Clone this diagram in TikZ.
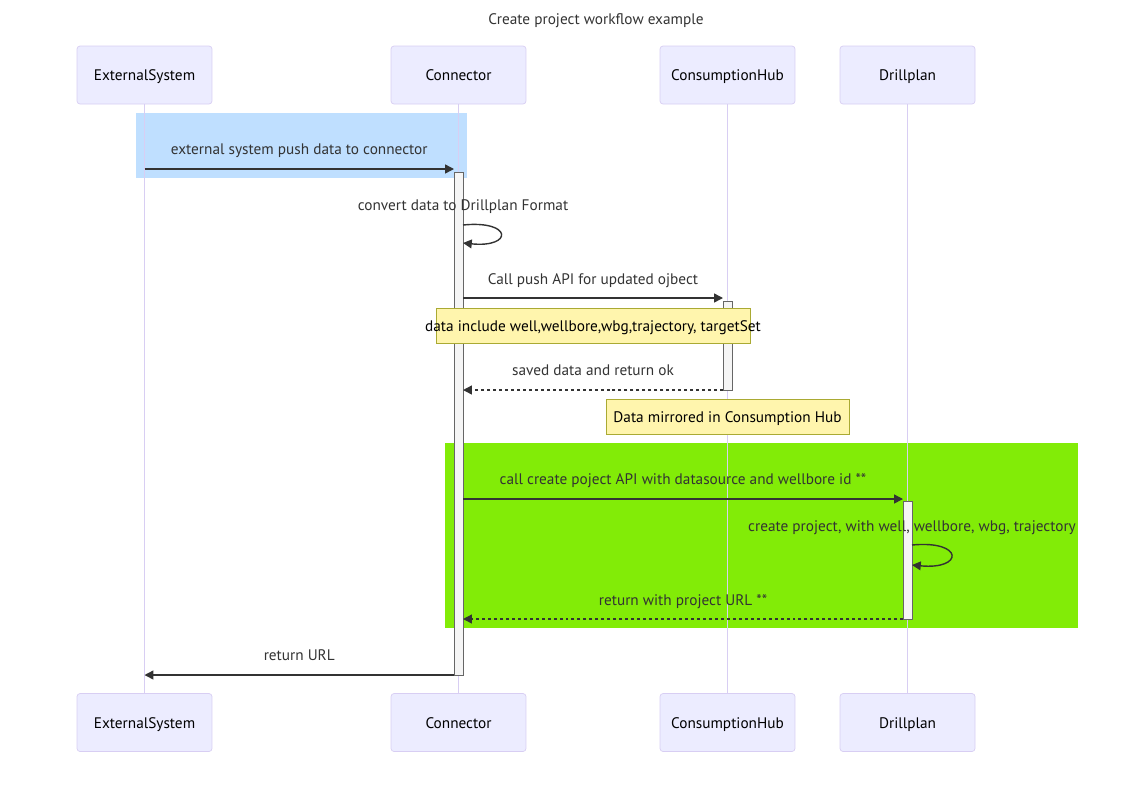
\documentclass[tikz,border=0pt]{standalone}
\usepackage{fontspec}
\setmainfont{PT Sans}
\usetikzlibrary{arrows.meta}

\definecolor{actorfill}{HTML}{ECECFF}
\definecolor{actorline}{HTML}{D8CEF3}
\definecolor{txt}{HTML}{333333}
\definecolor{notefill}{HTML}{FFF5AD}
\definecolor{noteline}{HTML}{AAAA33}
\definecolor{blueband}{HTML}{BFDFFF}
\definecolor{greenband}{HTML}{82EC07}

\tikzset{
  actor/.style={draw=actorline, fill=actorfill, rounded corners=0.06cm,
    minimum width=2.7cm, minimum height=1.16cm, text=black,
    text height=1.6ex, text depth=0.3ex},
  life/.style={draw=actorline, line width=0.7pt},
  actbar/.style={draw=black!60, fill=black!4, line width=0.5pt},
  msg/.style={draw=txt, line width=0.8pt, -{Triangle[length=5pt,width=5pt]}},
  reply/.style={msg, dash pattern=on 1.7pt off 1.7pt},
  lbl/.style={text=txt, inner sep=0pt, text height=1.6ex, text depth=0.3ex},
  notebox/.style={draw=noteline, fill=notefill, minimum height=0.7cm,
    inner sep=0pt},
  notetext/.style={lbl, text=black},
}

\begin{document}
\begin{tikzpicture}[x=0.02cm, y=-0.02cm, font=\fontsize{8.7}{10}\selectfont]
  \useasboundingbox (0,0) rectangle (1125,792);
  \node[lbl] (title) at (596,19) {Create project workflow example};

  \fill[blueband] (136,113) rectangle (467,178);
  \fill[greenband] (445,443) rectangle (1078,628);

  \node[actor] (estop) at (144.5,75) {ExternalSystem};
  \node[actor] (contop) at (458.5,75) {Connector};
  \node[actor] (hubtop) at (727.5,75) {ConsumptionHub};
  \node[actor] (dptop) at (907.5,75) {Drillplan};
  \node[actor] (esbot) at (144.5,722.5) {ExternalSystem};
  \node[actor] (conbot) at (458.5,722.5) {Connector};
  \node[actor] (hubbot) at (727.5,722.5) {ConsumptionHub};
  \node[actor] (dpbot) at (907.5,722.5) {Drillplan};

  \draw[life] (estop) -- (esbot);
  \draw[life] (contop) -- (conbot);
  \draw[life] (hubtop) -- (hubbot);
  \draw[life] (dptop) -- (dpbot);

  \draw[actbar] (454,172) rectangle (463,675);
  \draw[actbar] (723,301) rectangle (732,390);
  \draw[actbar] (903,501) rectangle (912,619);

  \coordinate (es1) at (144.5,169);
  \coordinate (con1) at (454,169);
  \draw[msg] (es1) -- node[lbl, yshift=0.4cm] {external system push data to connector} (con1);

  \coordinate (loopa) at (463,225);
  \coordinate (loopb) at (463,243);
  \node[lbl] (convert) at (463,205) {convert data to Drillplan Format};
  \draw[msg] (loopa) .. controls (513,220) and (513,248) .. (loopb);

  \coordinate (con2) at (463,298);
  \coordinate (hub2) at (723,298);
  \draw[msg] (con2) -- node[lbl, yshift=0.38cm] {Call push API for updated ojbect} (hub2);

  \node[notebox, minimum width=6.28cm] (note1) at (593,325.5) {};
  \node[notetext] (note1text) at (note1.center) {data include well,wellbore,wbg,trajectory, targetSet};

  \coordinate (hub3) at (723,390);
  \coordinate (con3) at (463,390);
  \draw[reply] (hub3) -- node[lbl, yshift=0.4cm] {saved data and return ok} (con3);

  \node[notebox, minimum width=4.86cm] (note2) at (727.5,416.5) {};
  \node[notetext] (note2text) at (note2.center) {Data mirrored in Consumption Hub};

  \coordinate (con4) at (463,499);
  \coordinate (dp4) at (903,499);
  \draw[msg] (con4) -- node[lbl, yshift=0.4cm] {call create poject API with datasource and wellbore id **} (dp4);

  \coordinate (loopc) at (912,545);
  \coordinate (loopd) at (912,565);
  \node[lbl] (create) at (912,526) {create project, with well, wellbore, wbg, trajectory};
  \draw[msg] (loopc) .. controls (964,540) and (964,570) .. (loopd);

  \coordinate (dp5) at (903,619);
  \coordinate (con5) at (463,619);
  \draw[reply] (dp5) -- node[lbl, yshift=0.38cm] {return with project URL **} (con5);

  \coordinate (con6) at (454,675);
  \coordinate (es6) at (144.5,675);
  \draw[msg] (con6) -- node[lbl, yshift=0.4cm] {return URL} (es6);
\end{tikzpicture}
\end{document}
